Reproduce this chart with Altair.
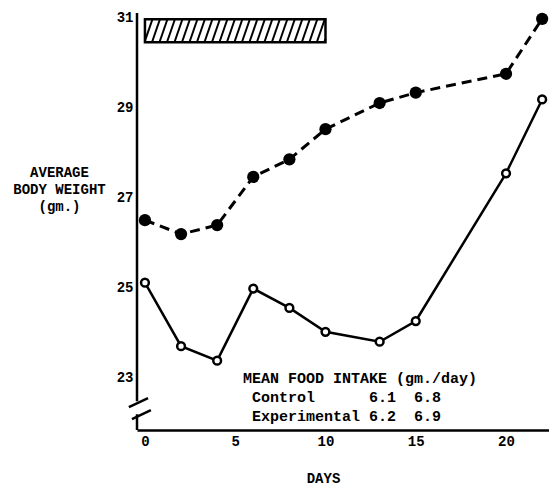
import altair as alt
import pandas as pd
import numpy as np

# ---- data ----
days_control = [0, 2, 4, 6, 8, 10, 13, 15, 20, 22]
weight_control = [26.50, 26.19, 26.39, 27.46, 27.85, 28.52, 29.10, 29.33, 29.75, 30.97]
days_exp = [0, 2, 4, 6, 8, 10, 13, 15, 20, 22]
weight_exp = [25.11, 23.70, 23.38, 24.98, 24.55, 24.02, 23.80, 24.26, 27.54, 29.18]

x_ticks = [0, 5, 10, 15, 20]
y_ticks = [23, 25, 27, 29, 31]
x_domain = [-0.44, 22.38]
y_domain = [21.84, 31.21]

bar_days = [0, 10]
bar_weights = [30.45, 30.96]

NB = "\u00a0"
intake_text = ["MEAN FOOD INTAKE (gm./day)",
               "Control" + NB * 6 + "6.1" + NB * 2 + "6.8",
               "Experimental" + NB + "6.2" + NB * 2 + "6.9"]
intake_x = [5.43, 5.93, 5.93]
intake_y = [22.99, 22.57, 22.15]

y_axis_segments = [(31.10, 22.48), (22.19, 21.84)]
break_slashes = [(-0.89, 22.35, 0.17, 22.55), (-0.72, 22.08, 0.33, 22.28)]

hatch_spacing = 0.415
hatch_slant = 0.44

FONT = "Liberation Mono"

xs = alt.Scale(domain=x_domain, nice=False, zero=False)
ys = alt.Scale(domain=y_domain, nice=False, zero=False)

ctrl = pd.DataFrame({"day": days_control, "w": weight_control})
exp = pd.DataFrame({"day": days_exp, "w": weight_exp})

x_axis = alt.Axis(values=x_ticks, grid=False, ticks=False, domain=True,
                  domainColor="black", domainWidth=2.5, labelFont=FONT,
                  labelFontSize=14, labelFontWeight="bold", labelColor="black",
                  labelPadding=4, title="DAYS", titleFont=FONT, titleFontSize=14,
                  titleFontWeight="bold", titleColor="black", titleX=186, titleY=48,
                  titleAlign="center", titleBaseline="middle")
y_axis = alt.Axis(values=y_ticks, grid=False, ticks=False, domain=False,
                  labelFont=FONT, labelFontSize=14, labelFontWeight="bold",
                  labelColor="black", labelPadding=4,
                  title=["AVERAGE", "BODY WEIGHT", "(gm.)"], titleFont=FONT,
                  titleFontSize=14, titleFontWeight="bold", titleColor="black",
                  titleAngle=0, titleAlign="center", titleBaseline="top",
                  titleX=-78, titleY=157, titleLineHeight=17)

base_ctrl = alt.Chart(ctrl)
ctrl_line = base_ctrl.mark_line(color="black", strokeWidth=3, strokeDash=[10, 6]).encode(
    x=alt.X("day:Q", scale=xs, axis=x_axis),
    y=alt.Y("w:Q", scale=ys, axis=y_axis))
ctrl_pts = base_ctrl.mark_point(filled=True, color="black", size=150, opacity=1).encode(
    x=alt.X("day:Q", scale=xs), y=alt.Y("w:Q", scale=ys))

base_exp = alt.Chart(exp)
exp_line = base_exp.mark_line(color="black", strokeWidth=2.5).encode(
    x=alt.X("day:Q", scale=xs), y=alt.Y("w:Q", scale=ys))
exp_pts = base_exp.mark_point(filled=True, fill="white", stroke="black", strokeWidth=2.5,
                              size=60, opacity=1).encode(
    x=alt.X("day:Q", scale=xs), y=alt.Y("w:Q", scale=ys))

# hatched bar
bar_df = pd.DataFrame({"x": [bar_days[0]], "x2": [bar_days[1]],
                       "y": [bar_weights[0]], "y2": [bar_weights[1]]})
bar_fill = alt.Chart(bar_df).mark_rect(fill="white").encode(
    x=alt.X("x:Q", scale=xs), x2="x2:Q", y=alt.Y("y:Q", scale=ys), y2="y2:Q")
bar_outline = alt.Chart(bar_df).mark_rect(fill=None, stroke="black", strokeWidth=2.5).encode(
    x=alt.X("x:Q", scale=xs), x2="x2:Q", y=alt.Y("y:Q", scale=ys), y2="y2:Q")

rows = []
ybot, ytop = bar_weights
x0, x1 = bar_days
for a in np.arange(x0 - hatch_slant, x1, hatch_spacing):
    b = a + hatch_slant
    sa, sb = a, b
    ya, yb = ybot, ytop
    if sa < x0:
        ya = ybot + (x0 - a) / hatch_slant * (ytop - ybot)
        sa = x0
    if sb > x1:
        yb = ybot + (x1 - a) / hatch_slant * (ytop - ybot)
        sb = x1
    if sb > sa:
        rows.append({"x": sa, "x2": sb, "y": ya, "y2": yb})
hatch_df = pd.DataFrame(rows)
hatch = alt.Chart(hatch_df).mark_rule(color="black", strokeWidth=2).encode(
    x=alt.X("x:Q", scale=xs), x2="x2:Q", y=alt.Y("y:Q", scale=ys), y2="y2:Q")

# y-axis line with break
seg_df = pd.DataFrame({"y": [s[0] for s in y_axis_segments], "y2": [s[1] for s in y_axis_segments]})
y_line = alt.Chart(seg_df).mark_rule(color="black", strokeWidth=2.5).encode(
    x=alt.value(0), y=alt.Y("y:Q", scale=ys), y2="y2:Q")
sl_df = pd.DataFrame(break_slashes, columns=["x", "y", "x2", "y2"])
slashes = alt.Chart(sl_df).mark_rule(color="black", strokeWidth=2.5).encode(
    x=alt.X("x:Q", scale=xs), x2="x2:Q", y=alt.Y("y:Q", scale=ys), y2="y2:Q")

# food intake table
txt_df = pd.DataFrame({"t": intake_text, "x": intake_x, "y": intake_y})
table = alt.Chart(txt_df).mark_text(font=FONT, fontSize=15, fontWeight="bold", align="left",
                                    baseline="middle", color="black").encode(
    x=alt.X("x:Q", scale=xs), y=alt.Y("y:Q", scale=ys), text="t:N")

chart = alt.layer(ctrl_line, exp_line, ctrl_pts, exp_pts, bar_fill, hatch, bar_outline,
                  y_line, slashes, table).properties(
    width=412, height=422,
    autosize=alt.AutoSizeParams(type="none"),
    padding={"left": 137, "top": 8, "right": 0, "bottom": 62},
    background="white",
).configure_view(stroke=None)

chart.save("out.html", embed_options={"renderer": "svg", "actions": False})
